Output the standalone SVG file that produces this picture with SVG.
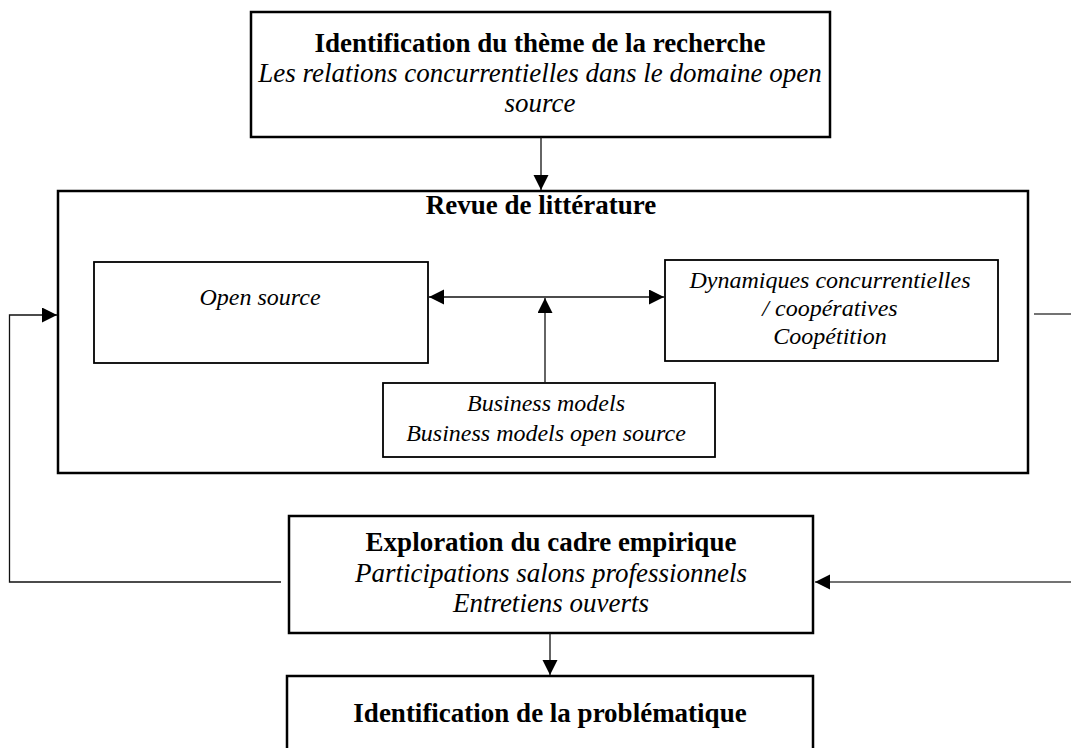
<svg xmlns="http://www.w3.org/2000/svg" width="1071" height="748" viewBox="0 0 1071 748">
<style>
  .box{fill:#fff;stroke:#000;stroke-width:2.5}
  .inner{fill:#fff;stroke:#000;stroke-width:1.8}
  .t{font-family:"Liberation Serif","Times New Roman",serif;fill:#000;text-anchor:middle}
  .b{font-weight:bold;font-size:27px}
  .i{font-style:italic;font-size:27px}
  .s{font-style:italic;font-size:24px}
  .c{fill:none;stroke:#111;stroke-width:1.3}
  .g{fill:none;stroke:#444;stroke-width:1.6}
</style>
<defs>
  <marker id="ah" markerUnits="userSpaceOnUse" markerWidth="16" markerHeight="16" refX="15" refY="7.5" orient="auto-start-reverse">
    <path d="M0,0 L15,7.5 L0,15 Z" fill="#000"/>
  </marker>
</defs>
<rect width="1071" height="748" fill="#fff"/>

<g id="theme">
  <rect class="box" x="251" y="12" width="579" height="125"/>
  <text class="t b" x="540" y="52">Identification du thème de la recherche</text>
  <text class="t i" x="540" y="82">Les relations concurrentielles dans le domaine open</text>
  <text class="t i" x="540" y="112">source</text>
</g>

<g id="revue">
  <rect class="box" x="58" y="191" width="970" height="282"/>
  <text class="t b" x="541" y="214">Revue de littérature</text>
</g>

<g id="opensource">
  <rect class="inner" x="94" y="262" width="334" height="101"/>
  <text class="t s" x="260" y="305">Open source</text>
</g>

<g id="dynamiques">
  <rect class="inner" x="665" y="260" width="333" height="101"/>
  <text class="t s" x="830" y="288">Dynamiques concurrentielles</text>
  <text class="t s" x="830" y="316">/ coopératives</text>
  <text class="t s" x="830" y="344">Coopétition</text>
</g>

<g id="business">
  <rect class="inner" x="383" y="383" width="332" height="74"/>
  <text class="t s" x="546" y="411">Business models</text>
  <text class="t s" x="546" y="441">Business models open source</text>
</g>

<g id="exploration">
  <rect class="box" x="289" y="516" width="524" height="117"/>
  <text class="t b" x="551" y="551">Exploration du cadre empirique</text>
  <text class="t i" x="551" y="582">Participations salons professionnels</text>
  <text class="t i" x="551" y="612">Entretiens ouverts</text>
</g>

<g id="problematique">
  <rect class="box" x="287" y="676" width="526" height="90"/>
  <text class="t b" x="550" y="722">Identification de la problématique</text>
</g>

<g id="connectors">
  <line class="c" x1="541" y1="137" x2="541" y2="190" marker-end="url(#ah)"/>
  <line class="c" x1="429" y1="297" x2="664" y2="297" marker-start="url(#ah)" marker-end="url(#ah)"/>
  <line class="c" x1="545" y1="382" x2="545" y2="298" marker-end="url(#ah)"/>
  <polyline class="c" points="281,582 9.5,582 9.5,315 57,315" marker-end="url(#ah)"/>
  <line class="g" x1="1034" y1="314" x2="1071" y2="314"/>
  <line class="g" x1="1071" y1="582" x2="815" y2="582" marker-end="url(#ah)"/>
  <line class="c" x1="550" y1="633" x2="550" y2="675" marker-end="url(#ah)"/>
</g>
</svg>
